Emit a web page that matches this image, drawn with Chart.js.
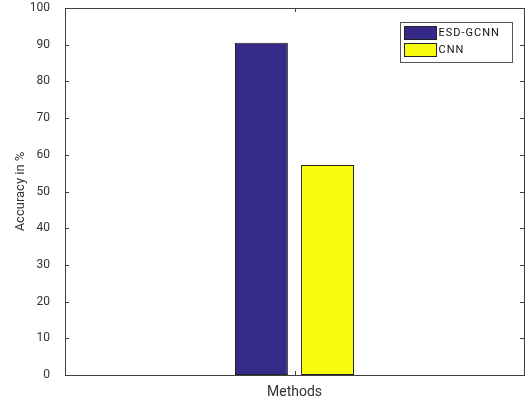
<!DOCTYPE html>
<html>
<head>
<meta charset="utf-8">
<script src="https://cdn.jsdelivr.net/npm/chart.js@4"></script>
<style>
  html, body { margin: 0; padding: 0; background: #fff; }
  #wrap { width: 528px; height: 404px; }
</style>
</head>
<body>
<div id="wrap"><canvas id="c" width="528" height="404"></canvas></div>
<script>
// Accuracy comparison of the two methods
const categories = ['Methods'];
const seriesNames = ['ESD-GCNN', 'CNN'];
const esdGcnnValues = [90.5];
const cnnValues = [57.2];
const yTicks = [0, 10, 20, 30, 40, 50, 60, 70, 80, 90, 100];

const seriesColors = ['#352a87', '#f9fb0e'];
const axisColor = '#404040';
const textColor = '#333333';
const fontFamily = 'Roboto, "Liberation Sans", sans-serif';

// Box around the plot area with inward ticks on all four sides
const boxAxes = {
  id: 'boxAxes',
  afterDatasetsDraw(chart) {
    const { ctx, chartArea: a, scales } = chart;
    const y = scales.y, x = scales.x;
    ctx.save();
    ctx.strokeStyle = axisColor;
    ctx.lineWidth = 1;
    ctx.strokeRect(Math.round(a.left) + 0.5, Math.round(a.top) + 0.5,
                   Math.round(a.right - a.left), Math.round(a.bottom - a.top));
    const len = 4;
    ctx.beginPath();
    yTicks.forEach(v => {
      const py = Math.round(y.getPixelForValue(v)) + 0.5;
      ctx.moveTo(a.left, py); ctx.lineTo(a.left + len, py);
      ctx.moveTo(a.right, py); ctx.lineTo(a.right - len, py);
    });
    const px = Math.round(x.getPixelForValue(0)) + 0.5;
    ctx.moveTo(px, a.bottom); ctx.lineTo(px, a.bottom - len);
    ctx.moveTo(px, a.top); ctx.lineTo(px, a.top + len);
    ctx.stroke();
    ctx.restore();
  }
};

// Legend box in the upper right corner of the plot area
const insideLegend = {
  id: 'insideLegend',
  afterDraw(chart) {
    const { ctx, chartArea: a } = chart;
    const w = 112, h = 40, pad = 12;
    const lx = Math.round(a.right - pad - w) + 0.5;
    const ly = Math.round(a.top + 14) + 0.5;
    ctx.save();
    ctx.fillStyle = '#fff';
    ctx.fillRect(lx, ly, w, h);
    ctx.strokeStyle = '#555';
    ctx.lineWidth = 1;
    ctx.strokeRect(lx, ly, w, h);
    ctx.font = '11px ' + fontFamily;
    ctx.textBaseline = 'middle';
    ctx.textAlign = 'left';
    chart.data.datasets.forEach((ds, i) => {
      const ry = ly + 4 + i * 17;
      ctx.fillStyle = ds.backgroundColor;
      ctx.fillRect(lx + 4, ry, 32, 13);
      ctx.strokeStyle = '#222';
      ctx.strokeRect(lx + 4, ry, 32, 13);
      ctx.fillStyle = '#111';
      if ('letterSpacing' in ctx) ctx.letterSpacing = '1px';
      ctx.fillText(ds.label, lx + 38, ry + 7);
    });
    ctx.restore();
  }
};

new Chart(document.getElementById('c'), {
  type: 'bar',
  data: {
    labels: categories,
    datasets: [
      { label: seriesNames[0], data: esdGcnnValues, backgroundColor: seriesColors[0] },
      { label: seriesNames[1], data: cnnValues, backgroundColor: seriesColors[1] }
    ]
  },
  options: {
    responsive: false,
    animation: false,
    layout: { padding: { top: 8, right: 4, left: 0, bottom: 0 } },
    datasets: {
      bar: {
        categoryPercentage: 0.288,
        barPercentage: 0.8,
        borderColor: '#222',
        borderWidth: 1,
        borderSkipped: false
      }
    },
    plugins: {
      legend: { display: false },
      tooltip: { enabled: false }
    },
    scales: {
      x: {
        grid: { display: false },
        border: { display: false },
        ticks: { display: false },
        title: {
          display: true,
          text: 'Methods',
          color: textColor,
          font: { family: fontFamily, size: 14 },
          padding: { top: 0, bottom: 3 }
        },
        afterFit(scale) { scale.height = 29; }
      },
      y: {
        min: 0,
        max: 100,
        afterBuildTicks(scale) { scale.ticks = yTicks.map(v => ({ value: v })); },
        grid: { display: false },
        border: { display: false },
        ticks: {
          color: textColor,
          padding: 7,
          font: { family: fontFamily, size: 12 }
        },
        title: {
          display: true,
          text: 'Accuracy in %',
          color: textColor,
          font: { family: fontFamily, size: 13 },
          padding: { top: 13, bottom: 0 }
        },
        afterFit(scale) {
          scale.width = 65;
          scale.paddingTop = 0;
          scale.paddingBottom = 0;
        }
      }
    }
  },
  plugins: [boxAxes, insideLegend]
});
</script>
</body>
</html>
